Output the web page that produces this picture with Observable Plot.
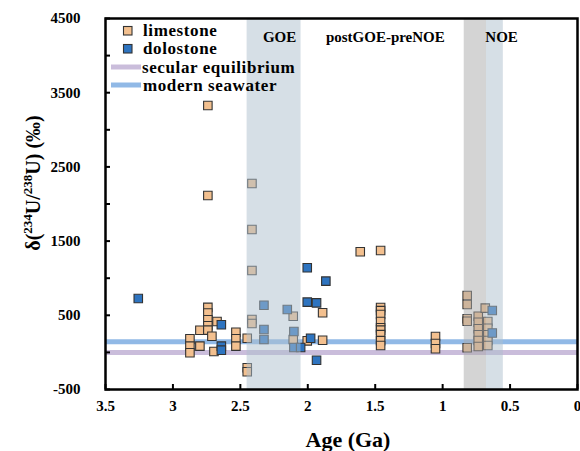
<!DOCTYPE html>
<html><head><meta charset="utf-8">
<script src="https://cdn.jsdelivr.net/npm/d3@7"></script>
<script src="https://cdn.jsdelivr.net/npm/@observablehq/plot@0.6"></script>
<style>
body{margin:0;background:#fff}
#chart{position:relative;width:580px;height:451px}
</style>
</head><body><div id="chart"></div>
<script>
// [age (Ga), δ234U (‰)]
const limestone = [
  [2.874,183],[2.874,84],[2.874,-5],
  [2.80,299],[2.80,84],
  [2.741,3327],[2.741,2114],[2.741,607],[2.741,530],[2.741,440],[2.741,360],[2.741,300],
  [2.711,218],[2.696,12],[2.673,416],
  [2.533,272],[2.533,183],[2.533,84],
  [2.449,191],[2.449,-207],[2.449,-261],
  [2.414,2276],[2.414,1656],[2.414,1104],[2.414,443],[2.414,389],
  [2.108,488],[2.108,174],
  [2.004,156],
  [1.89,534],[1.89,164],
  [1.611,1356],
  [1.46,1373],[1.46,605],[1.46,563],[1.46,511],[1.46,416],[1.46,333],[1.46,300],[1.46,240],[1.46,159],[1.46,93],
  [1.053,214],[1.053,120],[1.053,50],
  [0.818,767],[0.818,645],[0.818,453],[0.818,420],[0.818,62],
  [0.736,488],[0.736,407],[0.736,318],[0.736,237],[0.736,160],[0.736,79],
  [0.684,597],
  [0.665,416],[0.665,326],[0.665,237],[0.665,160],[0.665,93]
];
const dolostone = [
  [3.257,726],
  [2.641,372],[2.641,84],[2.641,30],
  [2.325,636],[2.325,309],[2.325,174],
  [2.152,578],
  [2.103,282],[2.103,66],
  [2.053,66],
  [2.004,1140],[2.004,677],
  [1.979,191],
  [1.935,668],[1.935,-105],
  [1.866,960],
  [0.632,565],[0.632,262]
];
const secularEquilibrium = [0];
const modernSeawater = [145];
const bandStart = [2.45, 0.84, 0.675];
const bandEnd = [2.05, 0.675, 0.55];
const bandColor = ["#aebfcd", "#a9a9a9", "#aebfcd"];
const bandLabelText = ["GOE", "postGOE-preNOE", "NOE"];
const bandLabelAge = [2.209, 1.425, 0.563];
const xTickValues = [3.5, 3, 2.5, 2, 1.5, 1, 0.5, 0];
const yTickValues = [-500, 0, 500, 1000, 1500, 2000, 2500, 3000, 3500, 4000, 4500];
const yLabelValues = [-500, 500, 1500, 2500, 3500, 4500];

const colLime = "#f3c08f", colDolo = "#2e74c0", colEdge = "#333333";
const colSec = "#cabddb", colSea = "#91b9e6";

const bands = bandStart.map((s, i) => ({start: s, end: bandEnd[i], color: bandColor[i]}));
const bandLabels = bandLabelText.map((t, i) => ({label: t, age: bandLabelAge[i]}));
const serif = "'Liberation Serif', 'Times New Roman', serif";

const svg = Plot.plot({
  width: 580, height: 451,
  marginLeft: 105, marginRight: 3, marginTop: 18, marginBottom: 62,
  style: {fontFamily: serif, fontWeight: "bold", background: "white", color: "black"},
  x: {domain: [3.5, 0]},
  y: {domain: [-500, 4500]},
  marks: [
    Plot.ruleY(secularEquilibrium, {y: d => d, stroke: colSec, strokeWidth: 5}),
    Plot.ruleY(modernSeawater, {y: d => d, stroke: colSea, strokeWidth: 5}),
    Plot.dot(limestone, {x: d => d[0], y: d => d[1], symbol: "square", r: 4.8,
      fill: colLime, stroke: colEdge, strokeWidth: 1.1}),
    Plot.dot(dolostone, {x: d => d[0], y: d => d[1], symbol: "square", r: 4.8,
      fill: colDolo, stroke: colEdge, strokeWidth: 1.1}),
    Plot.rect(bands, {x1: "start", x2: "end", fill: "color", fillOpacity: 0.5}),
    Plot.text(bandLabels, {x: "age", text: "label", frameAnchor: "top", dy: 13,
      fontSize: 15, fontWeight: "bold", fill: "black"}),
    Plot.axisX({ticks: xTickValues, tickSize: -5, strokeWidth: 2, tickFormat: () => "", label: null}),
    Plot.axisX({ticks: xTickValues, tickSize: 0, tickPadding: 11, tickFormat: d => String(d),
      fontSize: 15, fontWeight: "bold", label: null}),
    Plot.axisY({ticks: yTickValues, tickSize: -5, strokeWidth: 2, tickFormat: () => "", label: null}),
    Plot.axisY({ticks: yLabelValues, tickSize: 0, tickPadding: 25, tickFormat: d => String(d),
      fontSize: 15, fontWeight: "bold", label: null}),
    Plot.frame({stroke: "black", strokeWidth: 2.5})
  ]
});
document.getElementById("chart").appendChild(svg);

const s = d3.select(svg);
// axis titles
s.append("text").attr("x", 348).attr("y", 447).attr("text-anchor", "middle")
  .attr("font-family", serif).attr("font-weight", "bold").attr("font-size", 22)
  .attr("fill", "black").text("Age (Ga)");
const yl = s.append("text").attr("transform", "translate(40,183) rotate(-90)")
  .attr("text-anchor", "middle").attr("font-family", serif).attr("font-weight", "bold")
  .attr("font-size", 20).attr("fill", "black");
yl.append("tspan").text("δ(");
yl.append("tspan").attr("font-size", 13).attr("dy", -8).text("234");
yl.append("tspan").attr("dy", 8).text("U/");
yl.append("tspan").attr("font-size", 13).attr("dy", -8).text("238");
yl.append("tspan").attr("dy", 8).text("U) (‰)");

// legend
const lg = s.append("g").attr("font-family", serif).attr("font-weight", "bold")
  .attr("font-size", 17).attr("letter-spacing", 0.6).attr("fill", "black")
  .attr("text-anchor", "start");
lg.append("rect").attr("x", 123.5).attr("y", 26.5).attr("width", 8.5).attr("height", 8.5)
  .attr("fill", colLime).attr("stroke", colEdge).attr("stroke-width", 1.1);
lg.append("text").attr("x", 143).attr("y", 36).attr("text-anchor", "start").text("limestone");
lg.append("rect").attr("x", 123.5).attr("y", 44.5).attr("width", 8.5).attr("height", 8.5)
  .attr("fill", colDolo).attr("stroke", colEdge).attr("stroke-width", 1.1);
lg.append("text").attr("x", 143).attr("y", 54).attr("text-anchor", "start").text("dolostone");
lg.append("line").attr("x1", 111).attr("x2", 141).attr("y1", 67).attr("y2", 67)
  .attr("stroke", colSec).attr("stroke-width", 5);
lg.append("text").attr("x", 142).attr("y", 73).attr("text-anchor", "start").text("secular equilibrium");
lg.append("line").attr("x1", 111).attr("x2", 141).attr("y1", 85).attr("y2", 85)
  .attr("stroke", colSea).attr("stroke-width", 5);
lg.append("text").attr("x", 143).attr("y", 91).attr("text-anchor", "start").text("modern seawater");
</script>
</body></html>
